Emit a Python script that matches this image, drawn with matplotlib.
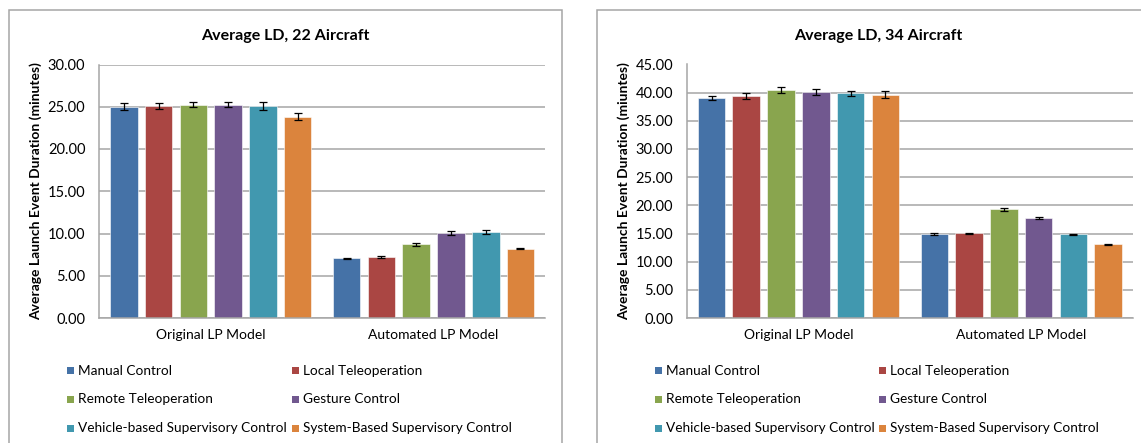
import matplotlib.pyplot as plt
from matplotlib.patches import Rectangle
import numpy as np

plt.rcParams['font.family'] = ['Lato', 'DejaVu Sans']

groups = ["Original LP Model", "Automated LP Model"]
series = ["Manual Control", "Local Teleoperation", "Remote Teleoperation",
          "Gesture Control", "Vehicle-based Supervisory Control",
          "System-Based Supervisory Control"]
colors = ["#4572A7", "#AA4643", "#89A54E", "#71588F", "#4198AF", "#DB843D"]

# mean launch duration per series: [original, automated]
ld22 = [[25.00, 7.06], [25.08, 7.22], [25.25, 8.72],
        [25.25, 10.02], [25.05, 10.21], [23.82, 8.20]]
err22 = [[0.44, 0.05], [0.40, 0.07], [0.32, 0.16],
         [0.32, 0.22], [0.47, 0.24], [0.40, 0.08]]
ld34 = [[38.97, 14.90], [39.45, 15.04], [40.46, 19.30],
        [40.16, 17.70], [39.86, 14.90], [39.63, 13.10]]
err34 = [[0.35, 0.15], [0.53, 0.10], [0.53, 0.27],
         [0.50, 0.20], [0.50, 0.10], [0.60, 0.07]]

W, H = 1141, 443
fig = plt.figure(figsize=(W / 100, H / 100), dpi=100)
grey = "#a6a6a6"


def px_axes(x0, x1, y0, y1):
    return fig.add_axes([x0 / W, (H - y1) / H, (x1 - x0) / W, (y1 - y0) / H])


def panel(x0, x1, ax_x0, ax_x1, title, ylabel, vals, errs, ymax, legx):
    # outer chart frame
    fig.patches.append(Rectangle((x0 / W, -0.1), (x1 - x0) / W, 1.1 - 10.5 / H,
                                 transform=fig.transFigure, fill=False,
                                 edgecolor=grey, lw=1.1))
    ax = px_axes(ax_x0, ax_x1, 64.5, 318)
    x = np.arange(len(groups))
    pitch, width = 0.156, 0.124
    for i, name in enumerate(series):
        ax.bar(x + (i - 2.5) * pitch, vals[i], width, color=colors[i],
               edgecolor="white", linewidth=0.4, zorder=2)
        ax.errorbar(x + (i - 2.5) * pitch, vals[i], yerr=errs[i], fmt="none",
                    ecolor="black", elinewidth=0.9, capsize=2.6, capthick=0.9,
                    zorder=3)
    ax.set_xlim(-0.5, 1.5)
    ax.set_ylim(0, ymax)
    ax.set_yticks(np.arange(0, ymax + 0.1, 5))
    ax.set_yticklabels(["%.2f" % v for v in np.arange(0, ymax + 0.1, 5)])
    ax.set_xticks(x)
    ax.set_xticklabels(groups)
    ax.yaxis.grid(True, color=grey, lw=1.1, zorder=0)
    ax.set_axisbelow(True)
    for s in ["top", "right"]:
        ax.spines[s].set_visible(False)
    for s in ["left", "bottom"]:
        ax.spines[s].set_color(grey)
        ax.spines[s].set_linewidth(1.1)
    ax.tick_params(axis="y", length=0, pad=10, labelsize=10.5)
    ax.tick_params(axis="x", length=0, pad=8, labelsize=10)
    ax.set_ylabel(ylabel, fontsize=10, fontweight="bold", labelpad=4)
    fig.text((x0 + x1) / 2 / W, 1 - 36 / H, title, ha="center", va="center",
             fontsize=11.5, fontweight="bold")
    # legend, two columns by three rows
    rows = [370.7, 399.3, 428.3]
    for i, name in enumerate(series):
        lx = legx[i % 2]
        ly = rows[i // 2]
        fig.patches.append(Rectangle(((lx - 3.5) / W, (H - ly - 3.5) / H),
                                     7 / W, 7 / H, transform=fig.transFigure,
                                     facecolor=colors[i], edgecolor="none"))
        fig.text((lx + 8) / W, 1 - ly / H, name, ha="left", va="center",
                 fontsize=9.8)
    return ax


panel(9, 562, 99.3, 545, "Average LD, 22 Aircraft",
      "Average Launch Event Duration (minutes)", ld22, err22, 30, [70, 295])
panel(597, 1160, 687, 1132.7, "Average LD, 34 Aircraft",
      "Average Launch Event Duration (miuntes)", ld34, err34, 45, [658, 882])

fig.savefig("out.png", dpi=100)
